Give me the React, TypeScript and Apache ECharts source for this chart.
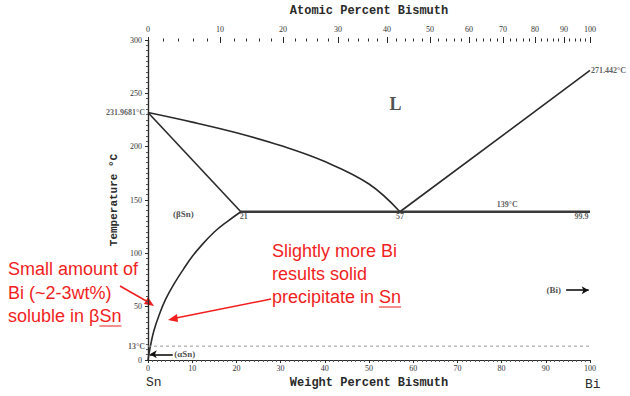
import React, { useEffect, useRef } from "react";
import * as echarts from "echarts";

// ---- data (weight % Bi, temperature °C) ----
const liquidusSn: number[][] = [[0, 231.9681], [10, 223], [20, 213], [30, 201], [40, 186], [50, 165], [57, 139]];
const solidusSn: number[][] = [[0, 231.9681], [21, 139]];
const solvusSn: number[][] = [[21, 139], [18, 130], [15, 120], [12, 107], [10, 97], [8, 85], [6, 72], [4, 57], [2.5, 42], [1.3, 27], [0.5, 12], [0, 0]];
const liquidusBi: number[][] = [[57, 139], [100, 271.442]];
const eutectic: number[][] = [[21, 139], [100, 139]];
const alphaBeta: number[][] = [[0, 13], [100, 13]];
const atomicMajor: number[] = [0, 10, 20, 30, 40, 50, 60, 70, 80, 90, 100];
const atomicMinor: number[] = Array.from({ length: 51 }, (_, i) => i * 2);
const pointLabels: { at: number[]; text: string; pos: string; off: number[] }[] = [
  { at: [0, 231.9681], text: "231.9681°C", pos: "left", off: [0, 0] },
  { at: [100, 271.442], text: "271.442°C", pos: "right", off: [-2, 0] },
  { at: [21, 139], text: "21", pos: "bottom", off: [3, -2] },
  { at: [57, 139], text: "57", pos: "bottom", off: [0, -2] },
  { at: [99.9, 139], text: "99.9", pos: "bottom", off: [-8, -2] },
  { at: [81.3, 139], text: "139°C", pos: "top", off: [0, 0] },
  { at: [0, 13], text: "13°C", pos: "left", off: [0, 0] },
];
const phaseLabels: { at: number[]; text: string; size: number }[] = [
  { at: [56, 240], text: "L", size: 18 },
  { at: [8, 137], text: "(βSn)", size: 9 },
  { at: [8.3, 5.3], text: "(αSn)", size: 9 },
  { at: [91.8, 65.5], text: "(Bi)", size: 9 },
];

const atToWt = (a: number) => (a * 208.98) / (a * 208.98 + (100 - a) * 118.71) * 100;

const RED = "#f01e1e";
const INK = "#2a2a2a";
const SERIF = "Liberation Serif";
const MONO = "Liberation Mono";

function textWidth(t: string, font: string) {
  const c = document.createElement("canvas").getContext("2d");
  if (!c) return t.length * 8;
  c.font = font;
  return c.measureText(t).width;
}

export default function App() {
  const ref = useRef<HTMLDivElement>(null);
  useEffect(() => {
    if (!ref.current) return;
    const chart = echarts.init(ref.current, undefined, { renderer: "svg" });
    const redFont = "18px 'Liberation Sans'";
    const leftLines = ["Small amount of", "Bi (~2-3wt%)", "soluble in βSn"];
    const rightLines = ["Slightly more Bi", "results solid", "precipitate in Sn"];
    const lx = 8, ly = [260, 284, 307];
    const rx = 272, ry = [242, 265, 288];
    const ul1x = lx + textWidth("soluble in β", redFont);
    const ul1w = textWidth("Sn", redFont);
    const ul2x = rx + textWidth("precipitate in ", redFont);
    const ul2w = ul1w;

    const line = (data: number[][], extra: any = {}) => ({
      type: "line",
      data,
      showSymbol: false,
      symbol: "none",
      silent: true,
      lineStyle: { color: INK, width: 1.6 },
      ...extra,
    });

    const topTicks = (major: boolean) => (params: any, api: any) => {
      const p = api.coord([api.value(0), 300]);
      const x = Math.round(p[0]) + 0.5;
      const children: any[] = [
        { type: "line", shape: { x1: x, y1: p[1] - (major ? 3 : 1.5), x2: x, y2: p[1] + (major ? 3 : 1.5) }, style: { stroke: INK, lineWidth: 1 } },
      ];
      if (major) {
        children.push({
          type: "text", x: Math.round(p[0]), y: Math.round(p[1] - 7),
          style: { text: String(api.value(1)), fill: "#333333", font: "8px 'Liberation Serif'", align: "center", verticalAlign: "bottom", textAlign: "center", textVerticalAlign: "bottom" },
        });
      }
      return { type: "group", children };
    };

    chart.setOption({
      animation: false,
      backgroundColor: "#ffffff",
      grid: { left: 148, right: 40, top: 35, bottom: 36 },
      xAxis: [
        {
          type: "value", min: 0, max: 100, interval: 10, position: "bottom",
          name: "Weight Percent Bismuth", nameLocation: "middle", nameGap: 17,
          nameTextStyle: { fontFamily: MONO, fontWeight: "bold", fontSize: 12, color: INK },
          axisLine: { lineStyle: { color: INK, width: 1.2 } },
          axisTick: { length: 3, lineStyle: { color: INK } },
          minorTick: { show: true, splitNumber: 10, length: 2, lineStyle: { color: "#555" } },
          axisLabel: { fontFamily: SERIF, fontSize: 8, color: "#333", margin: 4 },
          splitLine: { show: false },
        },
        {
          type: "value", min: 0, max: 100, position: "top",
          name: "Atomic Percent Bismuth", nameLocation: "middle", nameGap: 23,
          nameTextStyle: { fontFamily: MONO, fontWeight: "bold", fontSize: 12, color: INK },
          axisLine: { lineStyle: { color: INK, width: 1.2 } },
          axisTick: { show: false }, axisLabel: { show: false }, splitLine: { show: false },
        },
      ],
      yAxis: [
        {
          type: "value", min: 0, max: 300, interval: 50, position: "left",
          name: "Temperature °C", nameLocation: "middle", nameGap: 20,
          nameTextStyle: { fontFamily: MONO, fontWeight: "bold", fontSize: 11, color: INK },
          axisLine: { show: true, lineStyle: { color: INK, width: 1.2 } },
          axisTick: { show: true, length: 3, lineStyle: { color: INK } },
          minorTick: { show: true, splitNumber: 10, length: 2, lineStyle: { color: "#555" } },
          axisLabel: { fontFamily: SERIF, fontSize: 8, color: "#333", margin: 6 },
          splitLine: { show: false },
        },
        {
          type: "value", min: 0, max: 300, interval: 50, position: "right",
          axisLine: { show: true, lineStyle: { color: INK, width: 1.2 } },
          axisTick: { show: true, length: 3, inside: true, lineStyle: { color: INK } },
          minorTick: { show: true, splitNumber: 10, length: 2, lineStyle: { color: "#555" } },
          axisLabel: { show: false }, splitLine: { show: false },
        },
      ],
      series: [
        line(liquidusSn, { smooth: 0.4 }),
        line(solidusSn),
        line(solvusSn, { smooth: 0.4 }),
        line(liquidusBi),
        line(eutectic, { lineStyle: { color: "#3a3a3a", width: 2.6 } }),
        line(alphaBeta, {
          lineStyle: { color: "#9a9a9a", width: 1, type: [3, 3] },
          markLine: {
            silent: true, symbol: ["none", "arrow"], symbolSize: [6, 7], label: { show: false },
            lineStyle: { color: "#111", width: 1.6, type: "solid" },
            data: [
              [{ coord: [5.6, 5.3] }, { coord: [0.4, 5.3] }],
              [{ coord: [94.6, 65.5] }, { coord: [99.7, 65.5] }],
            ],
          },
        }),
        {
          type: "custom", xAxisIndex: 1, yAxisIndex: 0, silent: true, clip: false,
          data: atomicMajor.map((a) => [atToWt(a), a]),
          encode: { x: 0 },
          renderItem: topTicks(true),
          z: 5,
        },
        {
          type: "custom", xAxisIndex: 1, yAxisIndex: 0, silent: true, clip: false,
          data: atomicMinor.map((a) => [atToWt(a), a]),
          encode: { x: 0 },
          renderItem: topTicks(false),
          z: 4,
        },
        {
          type: "scatter", silent: true, symbolSize: 0, clip: false,
          data: pointLabels.map((d) => ({
            value: d.at,
            label: {
              show: true, formatter: d.text, position: d.pos, offset: d.off, distance: 3,
              fontFamily: SERIF, fontWeight: "bold", fontSize: 8, color: "#333",
            },
          })),
          z: 6,
        },
        {
          type: "scatter", silent: true, symbolSize: 0, clip: false,
          data: phaseLabels.map((d) => ({
            value: d.at,
            label: { show: true, formatter: d.text, position: "inside", fontFamily: SERIF, fontWeight: "bold", fontSize: d.size, color: "#222" },
          })),
          z: 6,
        },
      ],
      graphic: [
        { type: "text", x: 146, y: 376, style: { text: "Sn", font: "13px 'Liberation Mono'", fill: INK } },
        { type: "text", x: 585, y: 378, style: { text: "Bi", font: "13px 'Liberation Mono'", fill: INK } },
        ...leftLines.map((t, i) => ({ type: "text", x: lx, y: ly[i], style: { text: t, font: redFont, fill: RED } })),
        ...rightLines.map((t, i) => ({ type: "text", x: rx, y: ry[i], style: { text: t, font: redFont, fill: RED } })),
        { type: "line", shape: { x1: ul1x, y1: ly[2] + 19, x2: ul1x + ul1w, y2: ly[2] + 19 }, style: { stroke: RED, lineWidth: 1 } },
        { type: "line", shape: { x1: ul2x, y1: ry[2] + 19, x2: ul2x + ul2w, y2: ry[2] + 19 }, style: { stroke: RED, lineWidth: 1 } },
        { type: "line", shape: { x1: 120, y1: 286, x2: 148, y2: 302 }, style: { stroke: RED, lineWidth: 1.5 } },
        { type: "polygon", shape: { points: [[154, 306], [144, 304], [148, 297]] }, style: { fill: RED } },
        { type: "line", shape: { x1: 271, y1: 299, x2: 176, y2: 318 }, style: { stroke: RED, lineWidth: 1.5 } },
        { type: "polygon", shape: { points: [[168, 320], [177, 314], [178, 322]] }, style: { fill: RED } },
      ],
    });
    return () => chart.dispose();
  }, []);
  return <div ref={ref} style={{ position: "absolute", left: 0, top: 0, width: 630, height: 396 }} />;
}
